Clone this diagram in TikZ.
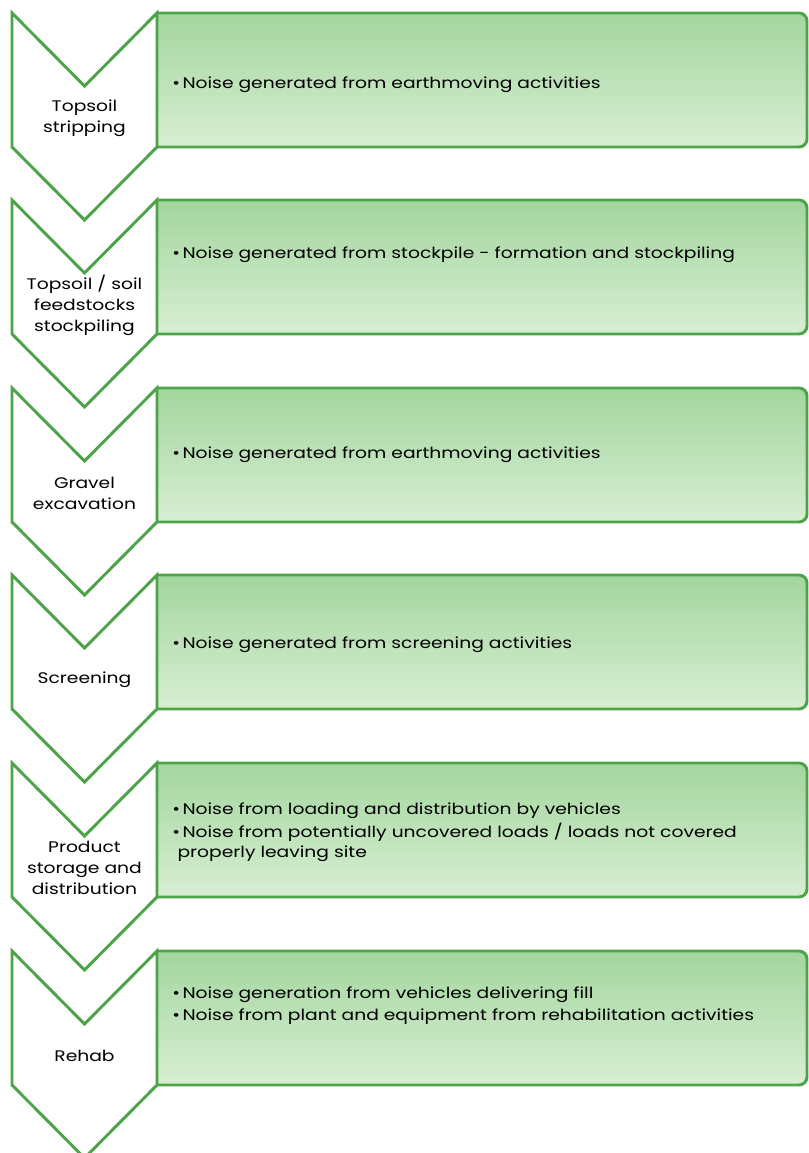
\documentclass[tikz,border=0pt]{standalone}
\usepackage{fontspec}
\setmainfont[FakeStretch=1.22]{Poppins}
\usetikzlibrary{positioning}
\definecolor{stageline}{RGB}{76,163,72}
\definecolor{panetop}{RGB}{163,214,158}
\definecolor{panebot}{RGB}{216,238,211}

\tikzset{
  chev/.style={draw=stageline, line width=2.2pt, fill=white, line join=miter},
  pane/.style={draw=stageline, line width=2.2pt, top color=panetop, bottom color=panebot, rounded corners=6pt},
  stagelabel/.style={align=center, inner sep=0pt, font=\fontsize{11.5}{15.75}\selectfont},
  bullets/.style={align=left, anchor=base west, inner sep=0pt, font=\fontsize{11.5}{15}\selectfont}
}

\begin{document}
\begin{tikzpicture}[x=0.75pt, y=-0.75pt]
  \useasboundingbox (0,0) rectangle (809,1153);

  % stages: chevron on the left, shaded pane on the right
  \foreach \t/\name/\txt in {13/strip/{Topsoil\\stripping},
                             200/stock/{Topsoil / soil\\feedstocks\\stockpiling},
                             388/gravel/{Gravel\\excavation},
                             575/screen/{Screening},
                             763/product/{Product\\storage and\\distribution},
                             951/rehab/{Rehab}} {
    \draw[pane] (157,\t) -- (807,\t) -- (807,\t+134) -- (157,\t+134);
    \draw[chev] (12,\t) -- (84.5,\t+73) -- (157,\t) -- (157,\t+134)
                -- (84.5,\t+207) -- (12,\t+134) -- cycle;
    \node[stagelabel] (\name) at (84.5,\t+105) {\txt};
  }

  % noise sources (base = last line)
  \node[bullets] (strip-txt)   at (172,88)  {\textbullet\,Noise generated from earthmoving activities};
  \node[bullets] (stock-txt)   at (172,258) {\textbullet\,Noise generated from stockpile - formation and stockpiling};
  \node[bullets] (gravel-txt)  at (172,458) {\textbullet\,Noise generated from earthmoving activities};
  \node[bullets] (screen-txt)  at (172,648) {\textbullet\,Noise generated from screening activities};
  \node[bullets] (product-txt) at (172,857) {\textbullet\,Noise from loading and distribution by vehicles\\[2.25pt]
    \textbullet\,Noise from potentially uncovered loads / loads not covered\\
    \hspace*{4pt}properly leaving site};
  \node[bullets] (rehab-txt)   at (172,1020) {\textbullet\,Noise generation from vehicles delivering fill\\[1.5pt]
    \textbullet\,Noise from plant and equipment from rehabilitation activities};
\end{tikzpicture}
\end{document}
